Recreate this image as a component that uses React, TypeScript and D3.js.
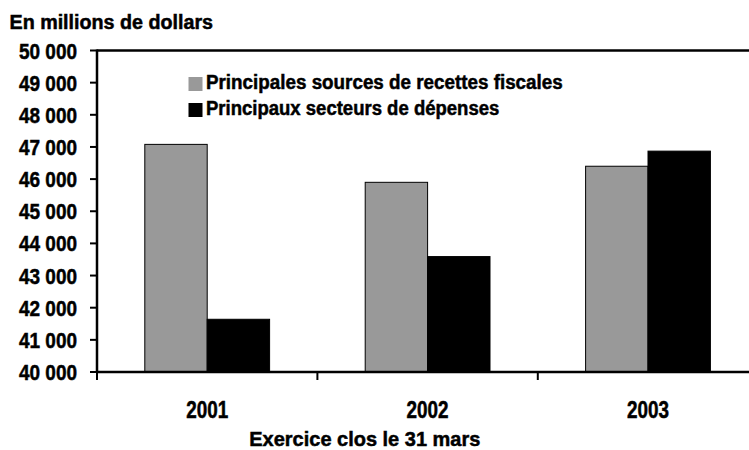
import React from "react";
import * as d3 from "d3";

const categories = ["2001", "2002", "2003"];
const seriesNames = [
  "Principales sources de recettes fiscales",
  "Principaux secteurs de dépenses",
];
const recettes = [47080, 45900, 46400];
const depenses = [41640, 43590, 46870];
const yTicks = [40000, 41000, 42000, 43000, 44000, 45000, 46000, 47000, 48000, 49000, 50000];
const colors = ["#999999", "#000000"];

const FONT = "'Liberation Sans', Arial, sans-serif";

export default function App() {
  const W = 749, H = 450;
  const left = 97, top = 50.5, bottom = 372;
  const band = 220.4;
  const right = left + band * categories.length;
  const x = d3.scaleBand<string>().domain(categories).range([left, right]).paddingInner(0).paddingOuter(0);
  const y = d3.scaleLinear().domain([40000, 50000]).range([bottom, top]);
  const bw = x.bandwidth();
  const barW = 62.4;
  const fmt = (v: number) => d3.format(",")(v).replace(/,/g, " ");
  const series = [recettes, depenses];
  const heavy = { stroke: "#000", strokeWidth: 0.5 };

  return (
    <svg width={W} height={H} style={{ position: "absolute", left: 0, top: 0, background: "#fff" }} fontFamily={FONT} fontWeight="bold">
      <rect x={0} y={0} width={W} height={H} fill="#fff" />
      <text x={9.5} y={29.3} fontSize={20} fill="#000" {...heavy} textLength={203.5} lengthAdjust="spacingAndGlyphs">En millions de dollars</text>
      {series.map((vals, si) =>
        vals.map((v, i) => {
          const x0 = (x(categories[i]) as number) + (bw - 2 * barW) / 2 + si * barW;
          return (
            <rect key={`${si}-${i}`} x={x0} y={y(v)} width={barW} height={bottom - y(v)}
              fill={colors[si]} stroke="#000" strokeWidth={1} />
          );
        })
      )}
      <line x1={left} x2={right} y1={top} y2={top} stroke="#000" strokeWidth={2.5} />
      <line x1={left} x2={left} y1={top - 1} y2={bottom + 1} stroke="#000" strokeWidth={2.5} />
      <line x1={left} x2={right} y1={bottom} y2={bottom} stroke="#000" strokeWidth={2.5} />
      {yTicks.map((t) => (
        <g key={t}>
          <line x1={left - 7} x2={left} y1={y(t)} y2={y(t)} stroke="#000" strokeWidth={2} />
          <text x={77} y={y(t) + 8} textAnchor="end" fontSize={22} fill="#000" {...heavy} textLength={58} lengthAdjust="spacingAndGlyphs">{fmt(t)}</text>
        </g>
      ))}
      {categories.map((c) => (
        <g key={c}>
          <line x1={(x(c) as number)} x2={(x(c) as number)} y1={bottom} y2={bottom + 8} stroke="#000" strokeWidth={2} />
          <text x={(x(c) as number) + bw / 2 - 21} y={418.3} fontSize={23} fill="#000" {...heavy} textLength={42} lengthAdjust="spacingAndGlyphs">{c}</text>
        </g>
      ))}
      <text x={249.3} y={445.5} fontSize={21} fill="#000" {...heavy} textLength={231} lengthAdjust="spacingAndGlyphs">Exercice clos le 31 mars</text>
      {seriesNames.map((s, i) => (
        <g key={s}>
          <rect x={188.5} y={77 + i * 26} width={14} height={14} fill={colors[i]} />
          <text x={206} y={89.3 + i * 26} fontSize={20} fill="#000" {...heavy} textLength={i === 0 ? 356.7 : 293.3} lengthAdjust="spacingAndGlyphs">{s}</text>
        </g>
      ))}
    </svg>
  );
}
